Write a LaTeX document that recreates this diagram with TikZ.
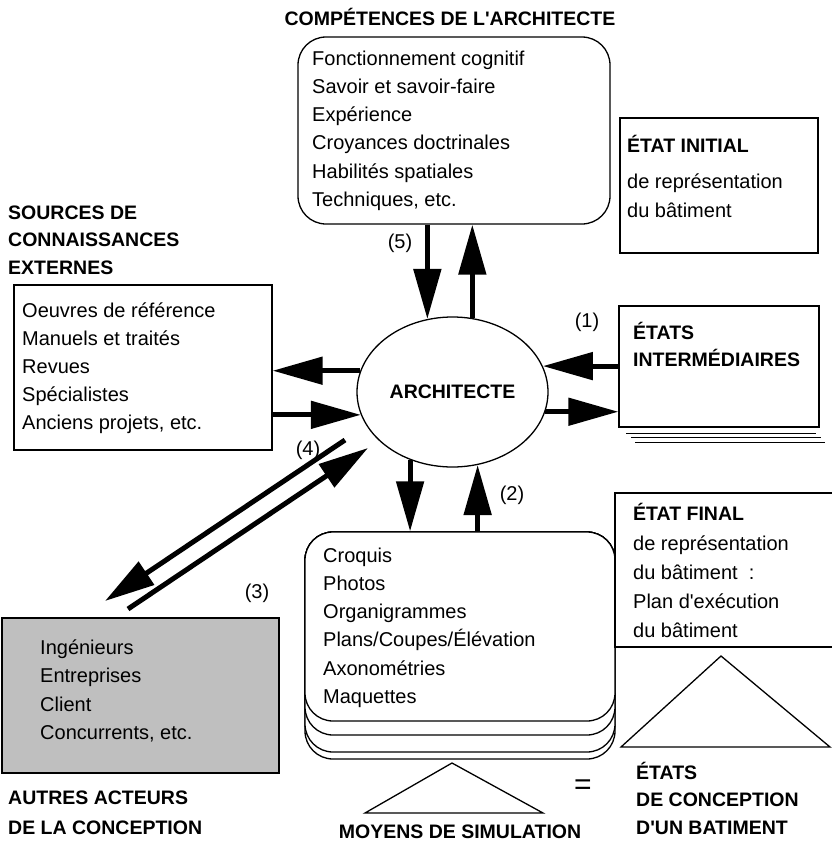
\documentclass[tikz,border=0pt]{standalone}
\usepackage{fontspec}
\setmainfont{Liberation Sans}
\usetikzlibrary{arrows.meta,shapes.geometric}
\tikzset{
  txt/.style={anchor=base west,align=left,inner sep=0pt,font=\fontsize{20}{28.3}\selectfont},
  hdr/.style={anchor=base west,align=left,inner sep=0pt,font=\fontsize{19.5}{27.5}\selectfont\bfseries},
  frame/.style={draw,line width=1.3pt,inner sep=0pt},
  rframe/.style={frame,rounded corners=28pt},
  fat/.style={line width=5pt,-{Triangle[length=50pt,width=27pt]}},
  num/.style={inner sep=0pt,font=\fontsize{20}{24}\selectfont},
}
\begin{document}
\begin{tikzpicture}[x=1pt,y=-1pt]
\useasboundingbox (0,0) rectangle (832,846);

% texts are placed by the baseline of their last line

% competences
\node[hdr,anchor=base] (compT) at (450,25) {COMPÉTENCES DE L\textquotesingle ARCHITECTE};
\node[rframe,minimum width=312pt,minimum height=187pt] (comp) at (454,130.5) {};
\node[txt] (compL) at (312,206.5) {Fonctionnement cognitif\\Savoir et savoir-faire\\Expérience\\Croyances doctrinales\\Habilités spatiales\\Techniques, etc.};

% architecte
\node[ellipse,draw,line width=1.3pt,minimum width=191pt,minimum height=150pt,inner sep=0pt,
  font=\fontsize{19.5}{24}\selectfont\bfseries] (arch) at (452.5,392) {ARCHITECTE};

% sources
\node[hdr] (srcT) at (8,274) {SOURCES DE\\CONNAISSANCES\\EXTERNES};
\node[frame,minimum width=258pt,minimum height=165pt] (src) at (143,367.5) {};
\node[txt,font=\fontsize{20}{28}\selectfont] (srcL) at (22,429) {Oeuvres de référence\\Manuels et traités\\Revues\\Spécialistes\\Anciens projets, etc.};

% etat initial
\node[frame,minimum width=198pt,minimum height=135pt] (init) at (719,185.5) {};
\node[hdr] (initT) at (627,152) {ÉTAT INITIAL};
\node[txt,font=\fontsize{20}{29.5}\selectfont] (initL) at (627,217.5) {de représentation\\du bâtiment};

% etats intermediaires
\node[frame,minimum width=200pt,minimum height=121pt] (inter) at (719,366.5) {};
\node[hdr] (interT) at (633,366.5) {ÉTATS\\INTERMÉDIAIRES};
\foreach \dy/\dx in {6/8,10/13,15/17}
  \draw[line width=1.3pt] ([xshift=\dx pt,yshift=-\dy pt]inter.south west) -- ++(190,0);

% moyens de simulation
\foreach \b in {759,752,735}
  \draw[rframe,fill=white] (305,532) rectangle (615,\b);
\node[rframe,fill=white,minimum width=310pt,minimum height=189pt] (moy) at (460,626.5) {};
\node[txt] (moyL) at (323,703.5) {Croquis\\Photos\\Organigrammes\\Plans/Coupes/Élévation\\Axonométries\\Maquettes};
\draw[line width=1.3pt] (452,763) -- (543,813) -- (365,813) -- cycle;
\node[hdr,anchor=base] (moyT) at (460,838) {MOYENS DE SIMULATION};
\node[num,font=\fontsize{30}{30}\selectfont] (eq) at (583,787) {=};

% etat final
\draw[line width=1.3pt] (832,493) -- (615,493) -- (615,647) -- (832,647);
\node[hdr] (finT) at (633,520) {ÉTAT FINAL};
\node[txt,font=\fontsize{20}{29}\selectfont] (finL) at (633,637) {de représentation\\du bâtiment\ \ :\\Plan d\textquotesingle exécution\\du bâtiment};
\draw[line width=1.3pt] (721,656) -- (830,747) -- (621,747) -- cycle;
\node[hdr] (concT) at (636,834) {ÉTATS\\DE CONCEPTION\\D\textquotesingle UN BATIMENT};

% autres acteurs
\node[frame,fill=black!25,minimum width=277pt,minimum height=155pt] (autres) at (140.5,695.5) {};
\node[txt,font=\fontsize{20}{28.5}\selectfont] (autresL) at (40,739.5) {Ingénieurs\\Entreprises\\Client\\Concurrents, etc.};
\node[hdr,font=\fontsize{19.5}{30}\selectfont\bfseries] (autresT) at (8,834) {AUTRES ACTEURS\\DE LA CONCEPTION};

% fleches
\draw[fat] (comp.south -| arch.109) -- (arch.109);
\draw[fat] (arch.75) -- (arch.75 |- comp.south);
\node[num] (n5) at (400,243) {(5)};

\draw[fat] (arch.167) -- (arch.167 -| src.east);
\draw[fat] (src.east |- arch.194) -- (arch.194);

\draw[fat] (inter.west |- arch.16) -- (arch.16);
\draw[fat] (arch.348) -- (arch.348 -| inter.west);
\node[num] (n1) at (587,322) {(1)};

\draw[fat] (arch.238) -- (arch.238 |- moy.north);
\draw[fat] (moy.north -| arch.289) -- (arch.289);
\node[num] (n2) at (512,495) {(2)};

\coordinate (dA) at (345,440);
\coordinate (dA2) at (105,601);
\coordinate (dB) at (128,609);
\coordinate (dB2) at (368,448);
\draw[fat] (dA) -- (dA2);
\draw[fat] (dB) -- (dB2);
\node[num] (n4) at (308,450) {(4)};
\node[num] (n3) at (257,593) {(3)};

\end{tikzpicture}
\end{document}
